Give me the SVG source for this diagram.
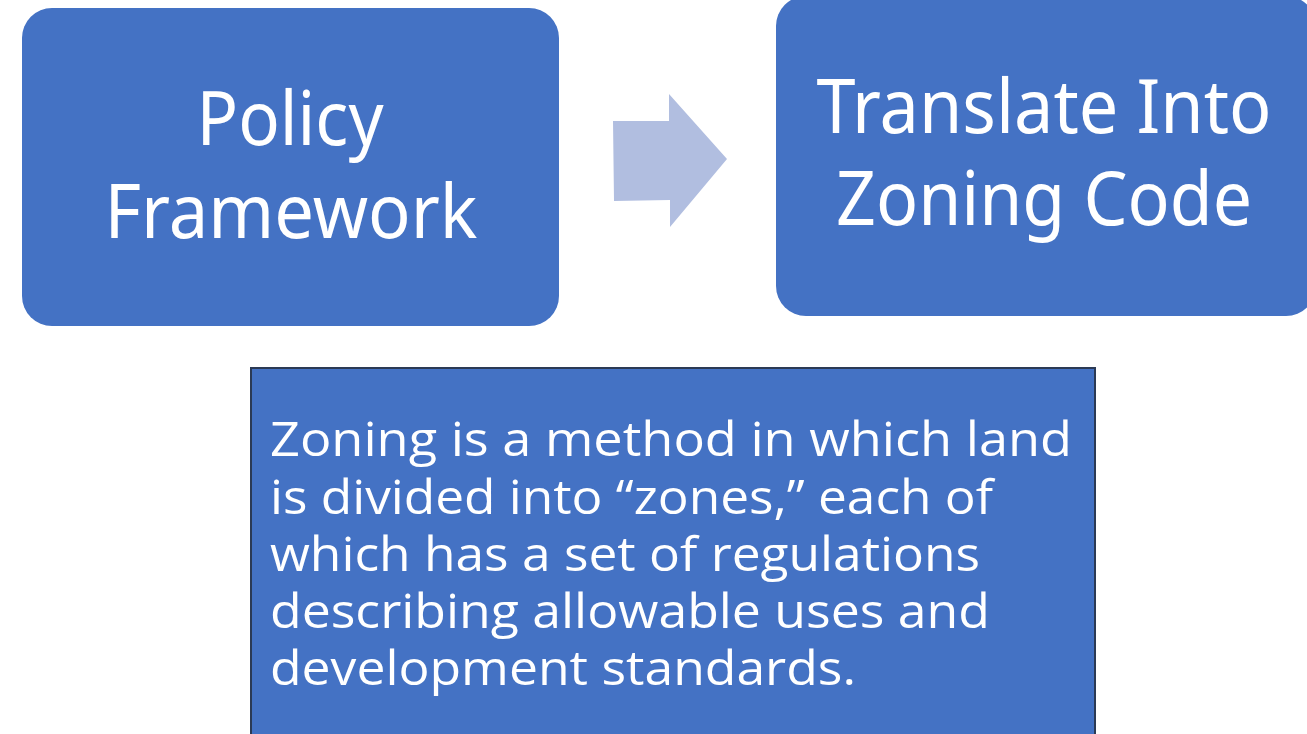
<svg xmlns="http://www.w3.org/2000/svg" width="1307" height="734" viewBox="0 0 1307 734">
<style>
.box{fill:#4472C4;}
.t1{font-family:"Noto Sans","Open Sans","Liberation Sans",sans-serif;font-size:74px;fill:#ffffff;}
.t2{font-family:"Open Sans","Noto Sans","Liberation Sans",sans-serif;font-size:48px;fill:#ffffff;}
</style>
<rect width="1307" height="734" fill="#ffffff"/>
<g id="node-policy">
<rect class="box" x="22" y="8" width="537" height="318" rx="30"/>
<text class="t1" x="290" y="145" text-anchor="middle" textLength="187" lengthAdjust="spacingAndGlyphs">Policy</text>
<text class="t1" x="291" y="238" text-anchor="middle" textLength="373" lengthAdjust="spacingAndGlyphs">Framework</text>
</g>
<g id="connectors">
<polygon points="613,121 669,121 669,94 727,159 670,227 670,200 614,201" fill="#B1BEE0"/>
</g>
<g id="node-translate">
<rect class="box" x="776" y="-4" width="540" height="320" rx="30"/>
<text class="t1" x="1044" y="133" text-anchor="middle" textLength="455" lengthAdjust="spacingAndGlyphs">Translate Into</text>
<text class="t1" x="1044" y="225" text-anchor="middle" textLength="416" lengthAdjust="spacingAndGlyphs">Zoning Code</text>
</g>
<g id="node-definition">
<rect class="box" x="251" y="368" width="844" height="380" stroke="#2B3A55" stroke-width="2"/>
<text class="t2" x="270" y="456" textLength="802" lengthAdjust="spacingAndGlyphs">Zoning is a method in which land</text>
<text class="t2" x="270" y="514" textLength="723" lengthAdjust="spacingAndGlyphs">is divided into “zones,” each of</text>
<text class="t2" x="270" y="571" textLength="710" lengthAdjust="spacingAndGlyphs">which has a set of regulations</text>
<text class="t2" x="270" y="628" textLength="720" lengthAdjust="spacingAndGlyphs">describing allowable uses and</text>
<text class="t2" x="270" y="685" textLength="586" lengthAdjust="spacingAndGlyphs">development standards.</text>
</g>
</svg>
